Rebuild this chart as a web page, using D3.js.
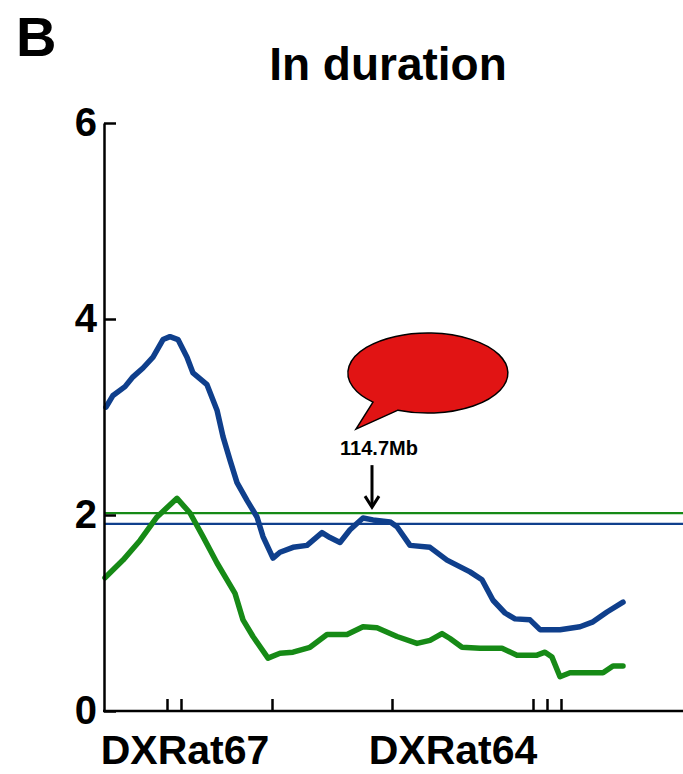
<!DOCTYPE html>
<html>
<head>
<meta charset="utf-8">
<script src="https://cdn.jsdelivr.net/npm/d3@7"></script>
<style>
  html, body { margin: 0; padding: 0; background: #fff; }
  svg { display: block; font-family: "Liberation Sans", Arial, sans-serif; }
</style>
</head>
<body>
<div id="chart"></div>
<script>
// position along the chromosome (relative units) and LOD-like score
const bluePos = [0.2, 0.9, 2.1, 2.9, 3.9, 4.9, 5.9, 6.6, 7.4, 8.3, 8.9, 10.3, 11.3, 11.9, 12.6, 13.3, 14.3, 15.3, 15.9, 16.9, 17.6, 18.9, 20.3, 21.8, 22.6, 23.6, 24.6, 25.9, 26.9, 28.6, 29.3, 30.6, 32.6, 34.3, 36.6, 37.8, 38.9, 40.1, 41.1, 42.6, 43.6, 45.6, 47.6, 48.9, 50.3, 51.9];
const blueVal = [3.10, 3.22, 3.31, 3.41, 3.50, 3.61, 3.79, 3.82, 3.79, 3.61, 3.45, 3.33, 3.07, 2.80, 2.56, 2.33, 2.15, 1.98, 1.78, 1.56, 1.62, 1.67, 1.69, 1.82, 1.77, 1.72, 1.85, 1.97, 1.95, 1.93, 1.88, 1.69, 1.67, 1.54, 1.42, 1.34, 1.13, 1.00, 0.94, 0.93, 0.83, 0.83, 0.86, 0.91, 1.01, 1.11];

const greenPos = [0.1, 1.9, 3.6, 5.3, 7.3, 8.6, 9.9, 11.3, 13.1, 13.9, 14.9, 16.4, 17.6, 18.9, 20.6, 22.3, 24.3, 25.9, 27.3, 29.3, 31.3, 32.6, 33.8, 34.6, 35.8, 37.6, 39.8, 41.3, 43.3, 44.1, 44.8, 45.6, 46.6, 49.9, 50.9, 51.9];
const greenVal = [1.36, 1.54, 1.74, 1.98, 2.17, 2.02, 1.78, 1.51, 1.20, 0.93, 0.76, 0.54, 0.59, 0.60, 0.65, 0.78, 0.78, 0.86, 0.85, 0.76, 0.69, 0.72, 0.79, 0.74, 0.65, 0.64, 0.64, 0.57, 0.57, 0.60, 0.55, 0.35, 0.39, 0.39, 0.46, 0.46];

const thresholds = [
  { series: "green", value: 2.02 },
  { series: "blue", value: 1.91 }
];

const markerPos = [6.3, 7.7, 16.8, 28.8, 42.9, 44.3, 45.7];
const markerLabels = ["DXRat67", "DXRat64"];
const markerLabelPos = [8.1, 34.9];

const yTicks = [0, 2, 4, 6];

const peakPos = 26.8;
const peakLabel = "114.7Mb";

const colors = { blue: "#0f3f8c", green: "#168a16" };

const W = 683, H = 774;

const svg = d3.select("#chart").append("svg")
  .attr("width", W)
  .attr("height", H);

const x = d3.scaleLinear().domain([0, 58]).range([104, 684]);
const y = d3.scaleLinear().domain([0, 6]).range([711, 123]);

// panel letter + title
svg.append("text")
  .attr("x", 16).attr("y", 56)
  .attr("font-size", 56).attr("font-weight", "bold")
  .text("B");

svg.append("text")
  .attr("x", 388).attr("y", 80)
  .attr("text-anchor", "middle")
  .attr("font-size", 46).attr("font-weight", "bold")
  .text("In duration");

// threshold lines
svg.selectAll(".thr")
  .data(thresholds)
  .enter().append("line")
  .attr("class", "thr")
  .attr("x1", x(0)).attr("x2", W)
  .attr("y1", d => y(d.value)).attr("y2", d => y(d.value))
  .attr("stroke", d => colors[d.series])
  .attr("stroke-width", 2.2);

// curves
const line = d3.line().x(d => x(d[0])).y(d => y(d[1]));
const series = [
  { name: "blue", pts: d3.zip(bluePos, blueVal) },
  { name: "green", pts: d3.zip(greenPos, greenVal) }
];
svg.selectAll(".curve")
  .data(series)
  .enter().append("path")
  .attr("class", "curve")
  .attr("d", d => line(d.pts))
  .attr("fill", "none")
  .attr("stroke", d => colors[d.name])
  .attr("stroke-width", 5.5)
  .attr("stroke-linejoin", "round")
  .attr("stroke-linecap", "round");

// axes
const yAxis = svg.append("g")
  .attr("transform", `translate(${x(0)},0)`)
  .call(d3.axisLeft(y).tickValues(yTicks).tickFormat(d3.format("d"))
    .tickSizeInner(-12).tickSizeOuter(0).tickPadding(7));

const xAxis = svg.append("g")
  .attr("transform", `translate(0,${y(0)})`)
  .call(d3.axisBottom(x).tickValues(markerPos).tickFormat("")
    .tickSizeInner(-12).tickSizeOuter(0));

[yAxis, xAxis].forEach(a => {
  a.selectAll("path, line").attr("stroke", "#000").attr("stroke-width", 2.5);
});
xAxis.select(".domain").attr("d", `M${x(0) - 1},0H${W}`);
yAxis.selectAll("text")
  .attr("font-size", 40).attr("font-weight", "bold")
  .attr("font-family", "'Liberation Sans', Arial, sans-serif")
  .attr("fill", "#000");

svg.selectAll(".mlab")
  .data(markerLabels)
  .enter().append("text")
  .attr("class", "mlab")
  .attr("x", (d, i) => x(markerLabelPos[i]))
  .attr("y", 764)
  .attr("text-anchor", "middle")
  .attr("font-size", 41).attr("font-weight", "bold")
  .text(d => d);

// peak annotation: arrow, label, speech bubble
const tipX = x(peakPos);
const tipY = y(2.07);
const ann = svg.append("g").attr("transform", `translate(${tipX},${tipY})`);

ann.append("line")
  .attr("x1", 0).attr("x2", 0)
  .attr("y1", -43).attr("y2", -4)
  .attr("stroke", "#000").attr("stroke-width", 3);
ann.append("path")
  .attr("d", "M-7,-12L0,-1L7,-12")
  .attr("fill", "none")
  .attr("stroke", "#000").attr("stroke-width", 3);

ann.append("text")
  .attr("x", 7).attr("y", -53)
  .attr("text-anchor", "middle")
  .attr("font-size", 20).attr("font-weight", "bold")
  .text(peakLabel);

ann.append("path")
  .attr("d", "M26,-98L-16,-79L1,-106A80,40 0 1 1 26,-98Z")
  .attr("fill", "#e11414")
  .attr("stroke", "#000")
  .attr("stroke-width", 1.5);
</script>
</body>
</html>
